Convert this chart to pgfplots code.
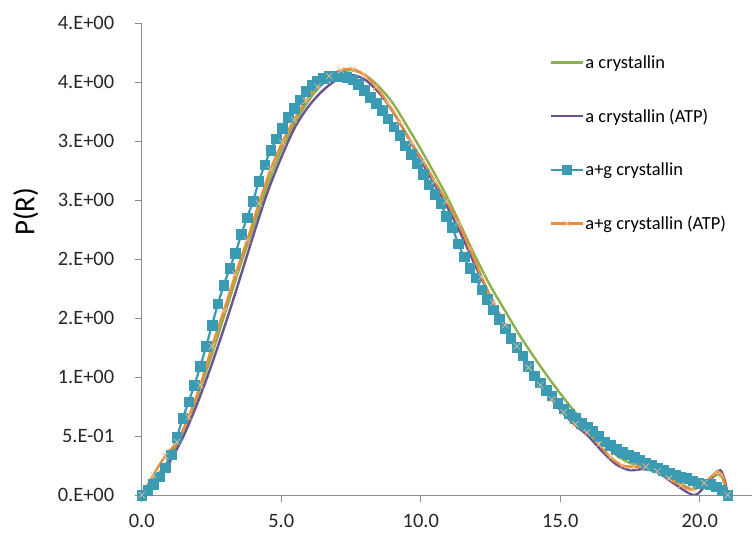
\documentclass[border=0pt]{standalone}
\usepackage{fontspec}
\setmainfont{Carlito}
\usepackage{pgfplots}
\pgfplotsset{compat=1.18}
\definecolor{cgreen}{HTML}{8CB04A}
\definecolor{cpurple}{HTML}{6B5290}
\definecolor{cteal}{HTML}{3A9BB2}
\definecolor{corange}{HTML}{EA8E3C}
\definecolor{caxis}{HTML}{8C8C8C}
\begin{document}
\begin{tikzpicture}
\path[use as bounding box] (-141.7bp,-45bp) rectangle (610.3bp,495bp);
\begin{axis}[
  scale only axis,
  width=610.3bp, height=472bp,
  xmin=0, xmax=21.87, ymin=0, ymax=4.0,
  axis lines=left,
  axis line style={-, caxis, line width=0.8bp},
  tick align=outside,
  major tick length=7bp,
  tick style={caxis, line width=0.8bp},
  xtick={0,5,10,15,20},
  xticklabels={0.0,5.0,10.0,15.0,20.0},
  ytick={0,0.5,1,1.5,2,2.5,3,3.5,4},
  yticklabels={0.E+00,5.E-01,1.E+00,2.E+00,2.E+00,3.E+00,3.E+00,4.E+00,4.E+00},
  ticklabel style={font=\fontsize{20.5}{24}\selectfont, text=black!85},
  yticklabel style={xshift=-17bp},
  xticklabel style={yshift=-9bp},
  ylabel={P(R)},
  ylabel style={font=\fontsize{29}{33}\selectfont, at={(axis description cs:-0.19,0.60)}, anchor=center, rotate=0},
  legend style={draw=none, fill=none, at={(axis description cs:0.668,0.935)}, anchor=north west,
    font=\fontsize{18.5}{22}\selectfont, row sep=36bp, inner sep=0pt, nodes={inner sep=1.5pt}},
  legend cell align=left,
  legend image code/.code={\draw[mark repeat=2,mark phase=2,#1] plot coordinates {(0bp,0bp) (16bp,0bp) (32bp,0bp)};},
]
% a crystallin
\addplot[cgreen, line width=2.4bp, smooth, no markers] coordinates {
(0,0) (0.5,0.15) (1.0,0.31) (1.5,0.55) (2.0,0.84) (2.5,1.18) (3.0,1.55) (3.5,1.92)
(4.0,2.27) (4.5,2.62) (5.0,2.92) (5.5,3.16) (6.0,3.35) (6.5,3.49) (7.0,3.57) (7.5,3.60)
(8.0,3.56) (8.5,3.46) (9.0,3.32) (9.5,3.13) (10.0,2.93) (10.5,2.72) (11.0,2.50) (11.5,2.25)
(12.0,2.00) (12.5,1.77) (13.0,1.57) (13.5,1.37) (14.0,1.19) (14.5,1.02) (15.0,0.86) (15.5,0.71)
(16.0,0.58) (16.5,0.45) (17.0,0.34) (17.5,0.27) (18.0,0.24) (18.5,0.20) (19.0,0.14) (19.5,0.07)
(19.8,0.05) (20.2,0.10) (20.6,0.17) (20.8,0.15) (21.0,0)
};
\addlegendentry{a crystallin}
% a crystallin (ATP)
\addplot[cpurple, line width=2.4bp, smooth, no markers] coordinates {
(0,0) (0.5,0.12) (1.0,0.28) (1.5,0.50) (2.0,0.78) (2.5,1.10) (3.0,1.45) (3.5,1.82)
(4.0,2.20) (4.5,2.56) (5.0,2.86) (5.5,3.12) (6.0,3.30) (6.5,3.43) (7.0,3.52) (7.5,3.56)
(8.0,3.52) (8.5,3.41) (9.0,3.25) (9.5,3.05) (10.0,2.84) (10.5,2.63) (11.0,2.42) (11.5,2.18)
(12.0,1.92) (12.5,1.68) (13.0,1.45) (13.5,1.24) (14.0,1.04) (14.5,0.87) (15.0,0.72) (15.5,0.60)
(16.0,0.50) (16.5,0.37) (17.0,0.26) (17.5,0.21) (18.0,0.22) (18.5,0.19) (19.0,0.11) (19.5,0.03)
(19.85,0.0) (20.2,0.08) (20.5,0.17) (20.74,0.21) (20.9,0.12) (21.0,0)
};
\addlegendentry{a crystallin (ATP)}
% a+g crystallin
\addplot[cteal, line width=2.2bp, mark=square*, mark size=4.8bp, mark options={fill=cteal, draw=cteal, line width=0.5bp}] coordinates {
(0.00,0.00) (0.21,0.04) (0.42,0.09) (0.63,0.155) (0.84,0.23) (1.05,0.34) (1.26,0.49) (1.47,0.65)
(1.68,0.79) (1.89,0.93) (2.10,1.09) (2.31,1.26) (2.52,1.44) (2.73,1.62) (2.94,1.78) (3.15,1.92)
(3.36,2.05) (3.57,2.21) (3.78,2.35) (3.99,2.49) (4.20,2.66) (4.41,2.80) (4.62,2.92) (4.83,3.02)
(5.04,3.11) (5.25,3.20) (5.46,3.28) (5.67,3.35) (5.88,3.42) (6.09,3.47) (6.30,3.51) (6.51,3.53)
(6.72,3.55) (6.93,3.55) (7.14,3.55) (7.35,3.54) (7.56,3.52) (7.77,3.48) (7.98,3.43) (8.19,3.37)
(8.40,3.32) (8.61,3.26) (8.82,3.19) (9.03,3.12) (9.24,3.05) (9.45,2.96) (9.66,2.89) (9.87,2.81)
(10.08,2.72) (10.29,2.63) (10.50,2.55) (10.71,2.47) (10.92,2.36) (11.13,2.27) (11.34,2.13) (11.55,2.02)
(11.76,1.92) (11.97,1.84) (12.18,1.74) (12.39,1.66) (12.60,1.57) (12.81,1.49) (13.02,1.41) (13.23,1.33)
(13.44,1.25) (13.65,1.18) (13.86,1.09) (14.07,1.01) (14.28,0.95) (14.49,0.89) (14.70,0.84) (14.91,0.78)
(15.12,0.73) (15.33,0.69) (15.54,0.65) (15.75,0.61) (15.96,0.58) (16.17,0.54) (16.38,0.50) (16.59,0.45)
(16.80,0.42) (17.01,0.39) (17.22,0.36) (17.43,0.34) (17.64,0.32) (17.85,0.30) (18.06,0.27) (18.27,0.25)
(18.48,0.23) (18.69,0.21) (18.90,0.19) (19.11,0.17) (19.32,0.15) (19.53,0.14) (19.74,0.12) (19.95,0.10)
(20.16,0.095) (20.37,0.09) (20.58,0.07) (20.79,0.04) (21.00,0.00)
};
\addlegendentry{a+g crystallin}
% a+g crystallin (ATP)
\addplot[corange, line width=2.4bp, smooth, mark=x, mark size=4.5bp, mark options={draw=corange!55, line width=0.6bp}] coordinates {
(0,0) (0.42,0.17) (0.84,0.33) (1.26,0.45) (1.68,0.66) (2.10,0.93) (2.52,1.26) (2.94,1.56)
(3.36,1.87) (3.78,2.16) (4.20,2.47) (4.62,2.76) (5.04,2.99) (5.46,3.18) (5.88,3.34) (6.30,3.46)
(6.72,3.55) (7.14,3.60) (7.56,3.61) (7.98,3.56) (8.40,3.46) (8.82,3.32) (9.24,3.16) (9.66,2.99)
(10.08,2.83) (10.50,2.66) (10.92,2.49) (11.34,2.31) (11.76,2.09) (12.18,1.85) (12.60,1.63) (13.02,1.44)
(13.44,1.26) (13.86,1.08) (14.28,0.93) (14.70,0.81) (15.12,0.70) (15.54,0.60) (15.96,0.53) (16.38,0.43)
(16.80,0.32) (17.22,0.25) (17.64,0.24) (18.06,0.24) (18.48,0.20) (18.90,0.14) (19.32,0.08) (19.74,0.045)
(20.16,0.10) (20.58,0.19) (20.79,0.17) (21.00,0)
};
\addlegendentry{a+g crystallin (ATP)}
\end{axis}
\end{tikzpicture}
\end{document}
